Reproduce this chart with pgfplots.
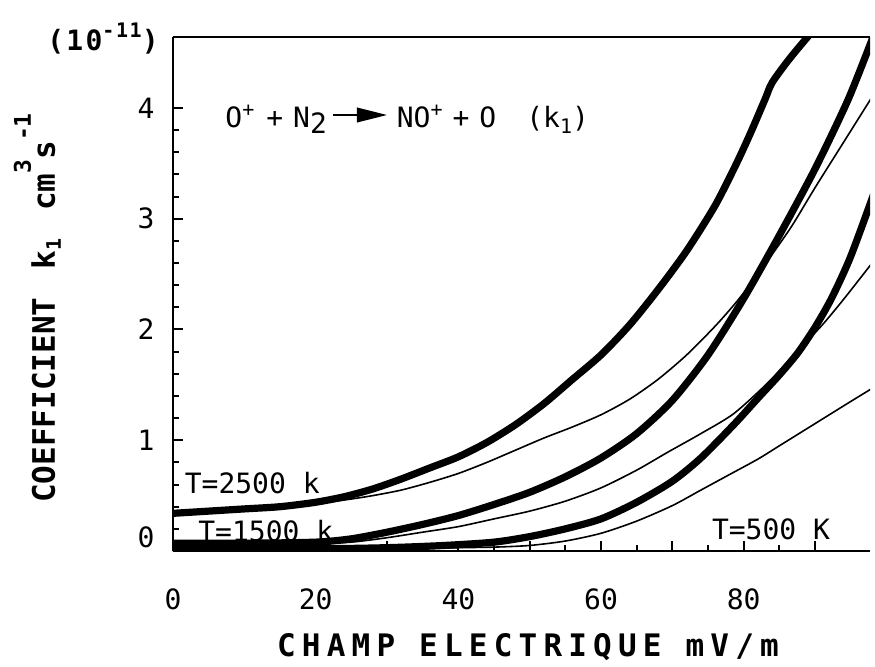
\documentclass[border=0pt]{standalone}
\usepackage{fontspec}
\usepackage{graphicx}
\usepackage{pgfplots}
\usepackage{pgfplotstable}
\pgfplotsset{compat=1.18}
\newfontfamily\dvm{DejaVu Sans Mono}
\newfontfamily\dvmx{DejaVu Sans Mono}[LetterSpace=20]
\newfontfamily\dvmy{DejaVu Sans Mono}[LetterSpace=8]
\newcommand\tickfont{\dvm\fontsize{14}{16}\selectfont}
\newcommand\sups[1]{\raisebox{5.5pt}{\fontsize{10}{10}\selectfont #1}}

% thick, T = 2500 K
\pgfplotstableread{
x y
0 0.34
5 0.36
10 0.38
15 0.40
20 0.44
24 0.49
28 0.56
32 0.65
36 0.75
40 0.85
44 0.98
48 1.14
52 1.33
56 1.55
60 1.77
64 2.04
68 2.36
72 2.71
76 3.12
79 3.50
81 3.78
83 4.08
84 4.23
86.5 4.45
90 4.72
}\thickA
% thin, T = 2500 K
\pgfplotstableread{
x y
0 0.34
10 0.38
20 0.43
24 0.46
28 0.50
32 0.55
36 0.62
40 0.70
44 0.80
48 0.91
52 1.02
56 1.12
60 1.23
64 1.37
68 1.55
72 1.77
76 2.03
79 2.25
82 2.50
85 2.77
87 2.96
90 3.28
94 3.69
98 4.10
}\thinB
% thick, T = 1500 K
\pgfplotstableread{
x y
0 0.07
10 0.07
20 0.08
25 0.11
30 0.17
35 0.24
40 0.32
45 0.42
50 0.53
55 0.67
60 0.84
65 1.06
70 1.36
75 1.77
80 2.28
85 2.85
90 3.45
94.6 4.07
98 4.62
}\thickC
% thin, T = 1500 K
\pgfplotstableread{
x y
0 0.07
10 0.07
20 0.07
25 0.08
30 0.12
35 0.17
40 0.22
45 0.29
50 0.36
55 0.45
60 0.57
65 0.73
69.3 0.89
74 1.06
78.6 1.24
83.4 1.52
87.6 1.81
91 2.04
94.1 2.28
98.6 2.65
}\thinD
% thick, T = 500 K
\pgfplotstableread{
x y
0 0.02
20 0.02
30 0.03
38 0.05
45 0.08
50 0.13
55 0.20
60 0.29
65 0.44
70 0.63
74 0.84
78.6 1.14
82 1.38
85 1.59
87.6 1.79
90 2.02
92.3 2.28
95 2.66
98.6 3.29
}\thickE
% thin, T = 500 K
\pgfplotstableread{
x y
0 0.02
30 0.02
40 0.03
45 0.035
50 0.05
55 0.09
60 0.16
65 0.27
70 0.41
74 0.55
78 0.69
82 0.83
85 0.95
88 1.07
92 1.23
95 1.35
98.3 1.48
}\thinF

\begin{document}
\begin{tikzpicture}
\useasboundingbox (-86.5pt,-57.5pt) rectangle (351pt,275.5pt);
\begin{axis}[
  at={(0,0)}, anchor=south west,
  scale only axis, width=348.5pt, height=257pt,
  xmin=0, xmax=97.7, ymin=0, ymax=4.64,
  axis y line*=left,
  xtick pos=bottom,
  xtick={0,10,...,90}, xticklabels={0,,20,,40,,60,,80,},
  minor x tick num=1,
  ytick={0,1,2,3,4}, yticklabels={\raisebox{7pt}{0},1,2,3,4},
  minor y tick num=4,
  tick align=inside,
  major tick length=5pt, minor tick length=3pt,
  tick style={black, line width=1pt},
  axis line style={line width=1.3pt},
  tick label style={font=\tickfont},
  xticklabel style={anchor=north, inner sep=0pt, yshift=-18.5pt},
  yticklabel style={anchor=base east, inner sep=0pt, xshift=-9pt, yshift=-5.1pt},
  every axis plot/.append style={black, line join=round, smooth, tension=0.45},
]
\addplot[line width=3.6pt, line cap=round] table {\thickA};
\addplot[line width=0.8pt] table {\thinB};
\addplot[line width=3.6pt, line cap=round] table {\thickC};
\addplot[line width=0.8pt] table {\thinD};
\addplot[line width=3.6pt, line cap=round] table {\thickE};
\addplot[line width=0.8pt] table {\thinF};
\node[anchor=west, inner sep=0pt, font=\tickfont] at (axis cs:1.6,0.61) {T=2500 k};
\node[anchor=west, inner sep=0pt, font=\tickfont] at (axis cs:3.5,0.18) {T=1500 k};
\node[anchor=west, inner sep=0pt, font=\tickfont] at (axis cs:75.5,0.20) {T=500 K};
\end{axis}
% top frame line
\draw[line width=1.3pt] (0,257pt) -- (348.5pt,257pt);
% reaction
\node[anchor=base west, inner sep=0pt, font=\tickfont] at (26pt,212pt)
 {O\sups{+}\hspace{6pt}+\hspace{5pt}N\raisebox{-3pt}{2}\hspace{3pt}\tikz[baseline=0pt]{\fill (0,5.3pt) rectangle (15pt,6.7pt); \fill (12pt,2.2pt)--(27pt,6pt)--(12pt,9.8pt)--cycle;}\hspace{5pt}NO\sups{+}\hspace{5pt}+\hspace{5pt}O\hspace{15pt}(k\raisebox{-3pt}{\fontsize{10}{10}\selectfont 1})};
% (10^-11)
\node[anchor=base, inner sep=0pt] at (-35pt,250.5pt)
 {\dvmy\bfseries\fontsize{14}{14}\selectfont (10\raisebox{6.5pt}{\fontsize{10}{10}\selectfont -11})};
% y label
\node[anchor=base, rotate=90, inner sep=0pt] at (-59pt,121.5pt)
 {\dvm\bfseries\fontsize{15.5}{18}\selectfont COEFFICIENT\hspace{14pt}k\raisebox{-3pt}{\fontsize{10}{10}\selectfont 1}\hspace{14pt}cm\raisebox{12pt}{\fontsize{11.5}{12}\selectfont 3}s\raisebox{12pt}{\fontsize{11.5}{12}\selectfont -1}};
% x label
\node[anchor=base, inner sep=0pt] at (177.5pt,-52.5pt)
 {\dvmx\bfseries\fontsize{15.5}{18}\selectfont CHAMP\hspace{12pt}ELECTRIQUE\hspace{12pt}mV/m};
\end{tikzpicture}
\end{document}
